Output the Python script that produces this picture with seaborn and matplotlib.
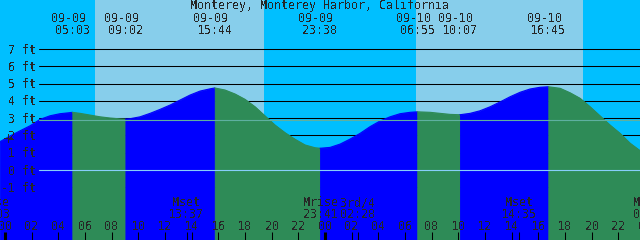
import matplotlib
matplotlib.use("Agg")
import matplotlib.pyplot as plt
import matplotlib.transforms as mtransforms
import seaborn as sns

# tide height (ft), hours since 09-09 00:00
tide_hours = [-0.38, 0.38, 1.13, 1.88, 2.63, 3.38, 4.13, 4.88, 5.05, 5.63, 6.38, 7.13,
              7.88, 8.63, 9.03, 9.38, 10.13, 10.88, 11.63, 12.38, 13.13, 13.88, 14.63,
              15.38, 15.73, 16.5, 17.25, 18.0, 18.75, 19.5, 20.25, 21.0, 21.75, 22.5,
              23.25, 23.63, 24.38, 25.13, 25.88, 26.63, 27.38, 28.13, 28.88, 29.63,
              30.38, 30.92, 31.88, 32.63, 33.38, 34.12, 34.88, 35.63, 36.38, 37.13,
              37.88, 38.63, 39.38, 40.13, 40.75, 41.63, 42.38, 43.13, 43.88, 44.63,
              45.38, 46.13, 46.88, 47.63]
tide_feet = [1.64, 1.97, 2.27, 2.56, 2.93, 3.14, 3.26, 3.32, 3.34, 3.28, 3.18, 3.08,
             3.01, 2.96, 2.95, 2.97, 3.08, 3.28, 3.51, 3.76, 4.05, 4.34, 4.57,
             4.70, 4.75, 4.63, 4.40, 4.09, 3.66, 3.13, 2.60, 2.16, 1.78, 1.45,
             1.29, 1.26, 1.31, 1.50, 1.79, 2.12, 2.51, 2.84, 3.08, 3.26,
             3.34, 3.37, 3.34, 3.28, 3.22, 3.20, 3.28, 3.43, 3.66, 3.94,
             4.24, 4.50, 4.69, 4.79, 4.82, 4.73, 4.47, 4.15, 3.66, 3.13,
             2.60, 2.12, 1.55, 1.12]

# high / low tides
event_hours = [5.05, 9.03, 15.73, 23.63, 30.92, 34.12, 40.75]
event_kind = ["high", "low", "high", "low", "high", "low", "high"]
event_dates = ["09-09", "09-09", "09-09", "09-09", "09-10", "09-10", "09-10"]
event_times = ["05:03", "09:02", "15:44", "23:38", "06:55", "10:07", "16:45"]

# moon events
moon_hours = [-0.95, 13.62, 23.68, 26.47, 38.58, 48.45]
moon_names = ["Mrise", "Mset", "Mrise", "3rd/4", "Mset", "Mrise"]
moon_times = ["23:03", "13:37", "23:41", "02:28", "14:35", "00:27"]

sunrise = [6.75, 30.83]
sunset = [19.43, 43.35]

ft_levels = [-1, 0, 1, 2, 3, 4, 5, 6, 7]
msl = 2.89
title = "Monterey, Monterey Harbor, California"

DAY, NIGHT = "#87CEEB", "#00BFFF"
RISE, FALL = "#0000FF", "#2E8B57"
W, H = 640, 240

sns.set_style("white")
plt.rcParams["font.family"] = ["DejaVu Sans Mono"]
plt.rcParams["text.antialiased"] = False
FS = 8.4

fig = plt.figure(figsize=(6.4, 2.4), dpi=100)
ax = fig.add_axes([0, 0, 1, 1])
xmin, xmax = -0.375, 47.625
ymin, ymax = -4.05, 9.84
ax.set_xlim(xmin, xmax)
ax.set_ylim(ymin, ymax)
ax.axis("off")

# sky
ax.axvspan(xmin - 2, xmax + 2, color=NIGHT, lw=0, zorder=0)
for sr, ss in zip(sunrise, sunset):
    ax.axvspan(sr, ss, color=DAY, lw=0, zorder=0)

# grid lines behind water
for lv in ft_levels:
    ax.axhline(lv, xmin=39 / W, xmax=1, color="black", lw=0.75, zorder=1)

# water, rising blue / falling green
bounds = [xmin - 5] + event_hours + [xmax + 5]
for i in range(len(bounds) - 1):
    lo, hi = bounds[i], bounds[i + 1]
    if i < len(event_kind):
        col = RISE if event_kind[i] == "high" else FALL
    else:
        col = RISE if event_kind[-1] == "low" else FALL
    xs = [t for t in tide_hours if lo <= t <= hi]
    ys = [f for t, f in zip(tide_hours, tide_feet) if lo <= t <= hi]
    ax.fill_between(xs, ys, ymin - 1, color=col, ec=col, lw=0.6, zorder=2)
    sns.lineplot(x=xs, y=ys, color=col, lw=0.8, ax=ax, zorder=2, sort=False)

# datum and mean sea level
ax.axhline(0, xmin=39 / W, xmax=1, color="#87CEFA", lw=0.8, zorder=3)
ax.axhline(msl, xmin=39 / W, xmax=1, color="#5FB0A0", lw=0.8, zorder=3)

ax.set_xlim(xmin, xmax)
ax.set_ylim(ymin, ymax)

top = mtransforms.blended_transform_factory(ax.transData, ax.transAxes)
left = mtransforms.blended_transform_factory(ax.transAxes, ax.transData)


def fy(px):
    return 1 - px / H


# y labels
for lv in ft_levels:
    ax.text(36 / W, lv, f"{lv} ft", ha="right", va="baseline", fontsize=FS,
            transform=mtransforms.offset_copy(left, fig=fig, y=-4.5, units="dots"),
            zorder=5)
ax.text(9 / W, fy(139), "+", ha="center", va="center", fontsize=13,
        transform=ax.transAxes, zorder=5)

ax.text(0.5, fy(9.5), title, ha="center", va="baseline", fontsize=FS,
        transform=ax.transAxes, zorder=5)

# tide event labels
date_tr = mtransforms.offset_copy(top, fig=fig, x=-4, units="dots")
for t, d, s in zip(event_hours, event_dates, event_times):
    ax.text(t, fy(22), d, ha="center", va="baseline", fontsize=FS, transform=date_tr, zorder=5)
    ax.text(t, fy(34), s, ha="center", va="baseline", fontsize=FS, transform=top, zorder=5)

# moon labels
for t, n, s in zip(moon_hours, moon_names, moon_times):
    ax.text(t, fy(206), n, ha="center", va="baseline", fontsize=FS, transform=top, zorder=5)
    ax.text(t, fy(218), s, ha="center", va="baseline", fontsize=FS, transform=top, zorder=5)
    if n != "Mrise":
        ax.vlines(t, 0, fy(232), color="black", lw=0.75, transform=top, zorder=5)

# hour ticks
for h in range(0, 49, 2):
    ax.text(h, fy(230), f"{h % 24:02d}", ha="center", va="baseline", fontsize=FS,
            transform=top, zorder=5)
    ax.vlines(h, 0, fy(232), color="black", lw=2.2 if h % 24 == 0 else 0.75,
              transform=top, zorder=5)

fig.savefig("out.png", dpi=100)
